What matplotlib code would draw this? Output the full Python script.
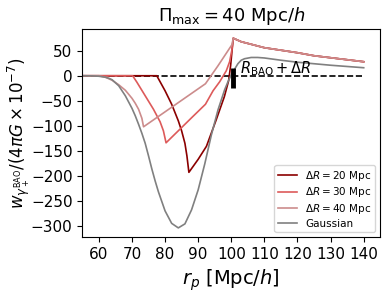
import matplotlib
matplotlib.use("Agg")
import matplotlib.pyplot as plt

# values
r_gauss = [55, 58, 60, 62, 63, 64, 66, 68, 70, 71, 72, 73, 74, 75, 76, 77, 78, 80, 82, 84,
           86, 88, 90, 92, 94, 96, 98, 99, 100, 101, 102, 103, 104, 106, 108, 110, 115, 120,
           125, 130, 135, 140]
w_gauss = [0, -0.3, -1, -3, -5, -8, -20, -40, -65, -80, -97, -115, -135, -160, -186, -210, -232,
           -270, -295, -304, -296, -268, -228, -176, -118, -68, -28, -12, 2, 13, 24, 31, 34,
           36.5, 36.5, 35.5, 31, 27, 24, 21, 18.5, 16]

r_dr20 = [55, 77.5, 78.5, 80, 82, 84, 85, 86, 86.6, 87.2, 90, 92.5, 95.4, 97.9, 99.2, 99.8,
          100.3, 100.6]
w_dr20 = [0, 0, -12, -30, -57, -90, -110, -135, -160, -193, -167, -141, -89, -42, -10, 20,
          55, 75]

r_dr30 = [55, 70.2, 71.5, 74, 76.5, 78.5, 79.5, 80.3, 84, 88, 92.2, 94.5, 96.5, 98.5, 99.5,
          100.2, 100.6]
w_dr30 = [0, 0, -13, -40, -67, -92, -110, -134, -110, -84, -57, -30, -12, 10, 28, 52, 75]

r_dr40 = [55, 60, 62, 64, 66, 68, 70, 71, 72, 73, 73.5, 92.2, 96, 99.5, 100.2, 100.6]
w_dr40 = [0, 0, -3, -9, -18, -29, -45, -55, -67, -85, -102, -16, 20, 55, 62, 75]

# shared tail beyond R_BAO + dR
r_tail = [100.6, 103, 106.5, 110, 115, 120, 125, 130, 135, 140]
w_tail = [75, 68, 62, 56, 51, 46, 40, 36, 32, 28]

labels = [r"$\Delta R = 20$ Mpc", r"$\Delta R = 30$ Mpc", r"$\Delta R = 40$ Mpc", "Gaussian"]
colors = ["#8b0000", "#dd5a5a", "#cc8c8c", "gray"]

fig = plt.figure(figsize=(3.9, 2.92), dpi=100)
ax = fig.add_axes([0.211, 0.187, 0.764, 0.713])

ax.hlines(0, 55, 140, colors="k", linestyles="--", lw=1.2, zorder=1)

series = [(r_dr20, w_dr20), (r_dr30, w_dr30), (r_dr40, w_dr40)]
for (r, w), lab, c in zip(series, labels[:3], colors[:3]):
    ax.plot(list(r) + r_tail[1:], list(w) + w_tail[1:], color=c, lw=1.2, label=lab, zorder=2)
ax.plot(r_gauss, w_gauss, color=colors[3], lw=1.2, label=labels[3], zorder=2)

# marker at R_BAO + dR
ax.vlines(100.5, -25, 15, colors="k", lw=3.5, zorder=3)
ax.text(102.5, 4, r"$R_{\rm BAO} + \Delta R$", fontsize=10.5, ha="left", va="baseline")

ax.set_xlim(55, 145)
ax.set_ylim(-323, 93)
ax.set_xticks(range(60, 141, 10))
ax.set_yticks(range(-300, 51, 50))
ax.tick_params(labelsize=11)
ax.set_xlabel(r"$r_p$ [Mpc/$h$]", fontsize=14)
ax.set_ylabel(r"$w_{\gamma_+^{\rm BAO}}/(4\pi G\times 10^{-7})$", fontsize=12, labelpad=-1)
ax.set_title(r"$\Pi_{\rm max} = 40$ Mpc/$h$", fontsize=13)
ax.legend(loc="lower right", fontsize=7.5, labelspacing=0.25, handlelength=1.8, borderpad=0.35)

fig.savefig("out.png", dpi=100)
